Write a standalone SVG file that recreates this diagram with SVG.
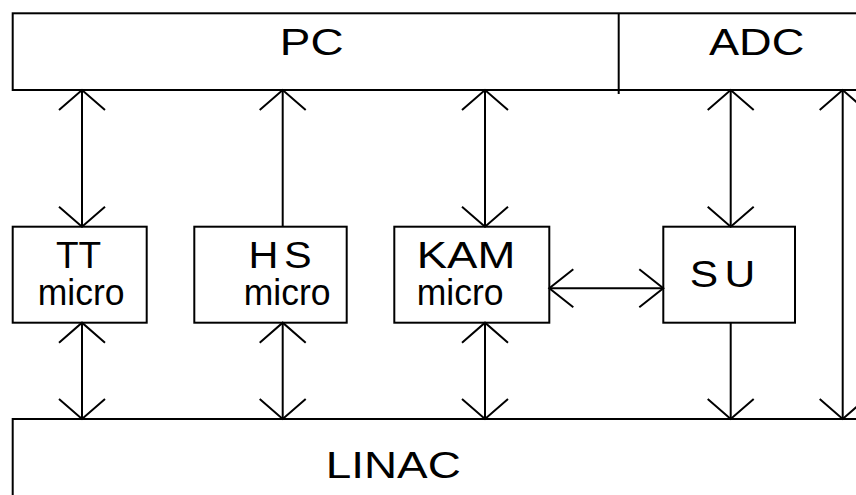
<svg xmlns="http://www.w3.org/2000/svg" width="856" height="495" viewBox="0 0 856 495">
<style>
  .box { fill: #ffffff; stroke: #000000; stroke-width: 2; }
  .lbl { font-family: "Liberation Sans", Arial, sans-serif; font-size: 37px; fill: #000000; }
  .conn line { stroke: #000000; stroke-width: 2; fill: none; }
  .v { marker-end: url(#hv); }
  .vb { marker-start: url(#hv); marker-end: url(#hv); }
  .hb { marker-start: url(#hh); marker-end: url(#hh); }
</style>
<defs>
  <marker id="hv" markerUnits="userSpaceOnUse" orient="auto-start-reverse" refX="0" refY="0" markerWidth="30" markerHeight="60" overflow="visible">
    <path d="M -20 -23 L 0 0 L -20 23" fill="none" stroke="#000000" stroke-width="2"/>
  </marker>
  <marker id="hh" markerUnits="userSpaceOnUse" orient="auto-start-reverse" refX="0" refY="0" markerWidth="30" markerHeight="60" overflow="visible">
    <path d="M -24 -19 L 0 0 L -24 19" fill="none" stroke="#000000" stroke-width="2"/>
  </marker>
</defs>
<rect width="856" height="495" fill="#ffffff"/>

<g id="pc">
  <rect class="box" x="12.7" y="13.3" width="870" height="76.7"/>
  <text class="lbl" transform="translate(279.8,55) scale(1.24,1)">PC</text>
</g>
<g id="adc">
  <line x1="618.7" y1="13.3" x2="618.7" y2="94" stroke="#000000" stroke-width="2"/>
  <text class="lbl" transform="translate(709,55) scale(1.22,1)">ADC</text>
</g>
<g id="linac">
  <rect class="box" x="12.7" y="419" width="870" height="100"/>
  <text class="lbl" transform="translate(325.7,478) scale(1.24,1)">LINAC</text>
</g>
<g id="tt">
  <rect class="box" x="12.7" y="226.7" width="134" height="96"/>
  <text class="lbl" x="56" y="268">TT</text>
  <text class="lbl" transform="translate(37.8,305) scale(0.96,1)">micro</text>
</g>
<g id="hs">
  <rect class="box" x="194.3" y="226.7" width="152.4" height="96"/>
  <text class="lbl" transform="translate(248.4,268) scale(1.12,1)" letter-spacing="5">HS</text>
  <text class="lbl" transform="translate(243.7,305) scale(0.96,1)">micro</text>
</g>
<g id="kam">
  <rect class="box" x="394.3" y="226.7" width="155" height="96"/>
  <text class="lbl" transform="translate(416.7,268) scale(1.23,1)">KAM</text>
  <text class="lbl" transform="translate(416.8,305) scale(0.96,1)">micro</text>
</g>
<g id="su">
  <rect class="box" x="663.3" y="226.7" width="131.7" height="96"/>
  <text class="lbl" transform="translate(689.7,287) scale(1.15,1)" letter-spacing="5.5">SU</text>
</g>

<g id="connectors" class="conn">
  <line class="vb" x1="82" y1="90" x2="82" y2="226.7"/>
  <line class="v" x1="282.7" y1="226.7" x2="282.7" y2="90"/>
  <line class="vb" x1="485" y1="90" x2="485" y2="226.7"/>
  <line class="vb" x1="730.7" y1="90" x2="730.7" y2="226.7"/>
  <line class="vb" x1="842.7" y1="90" x2="842.7" y2="419"/>
  <line class="vb" x1="82" y1="322.7" x2="82" y2="419"/>
  <line class="vb" x1="282.7" y1="322.7" x2="282.7" y2="419"/>
  <line class="vb" x1="485" y1="322.7" x2="485" y2="419"/>
  <line class="v" x1="730.7" y1="322.7" x2="730.7" y2="419"/>
  <line class="hb" x1="549.3" y1="288.3" x2="663.3" y2="288.3"/>
</g>
</svg>
